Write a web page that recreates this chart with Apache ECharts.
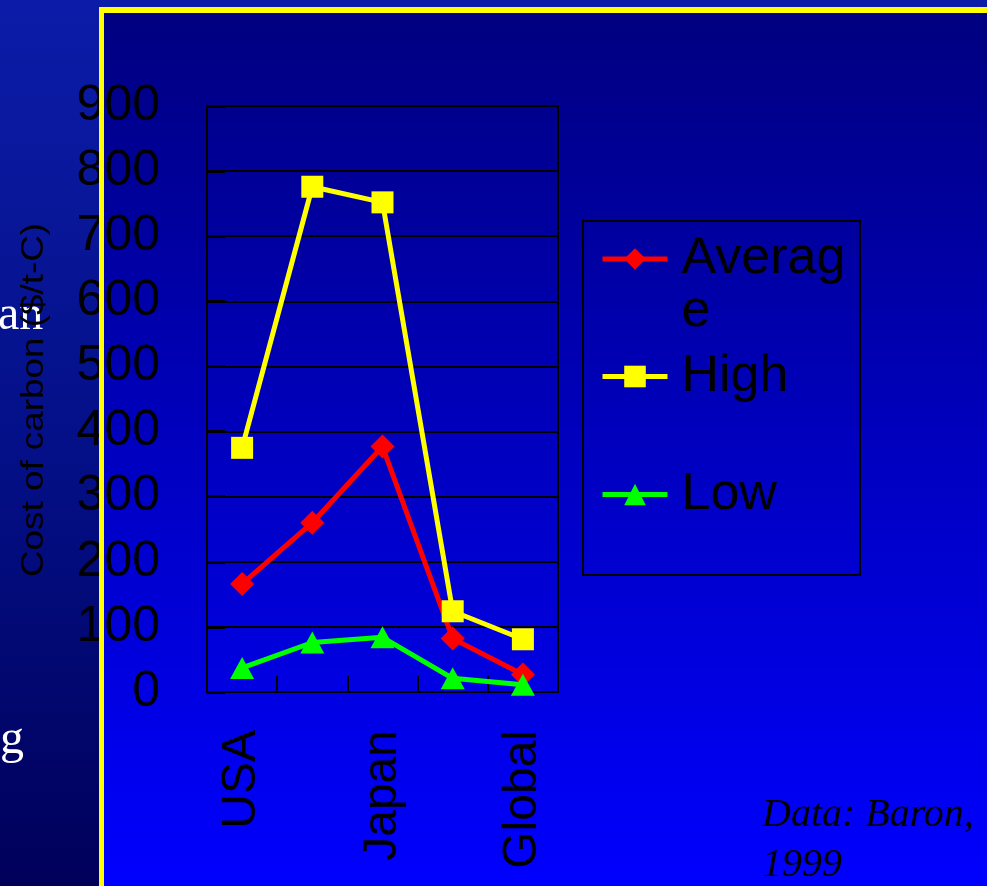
<!DOCTYPE html>
<html><head><meta charset="utf-8">
<script src="https://cdn.jsdelivr.net/npm/echarts@6/dist/echarts.min.js"></script>
<style>html,body{margin:0;padding:0;background:#000080;overflow:hidden}#c{width:987px;height:886px}</style>
</head><body><div id="c"></div>
<script>
// Data
const categories = ['USA', 'OECD Europe', 'Japan', 'CANZ', 'Global'];
const seriesNames = ['Average', 'High', 'Low'];
const averageValues = [166, 260, 377, 82, 27];
const highValues = [375, 776, 752, 124, 81];
const lowValues = [37, 76, 84, 21, 11];
const yMin = 0, yMax = 900, yStep = 100;

const SANS = 'Liberation Sans, Arial, sans-serif';
const SERIF = 'Liberation Serif, Times New Roman, serif';

const chart = echarts.init(document.getElementById('c'), null, {renderer: 'canvas'});

function legendFor(name, top, leadingBlank) {
  return {
    show: true,
    data: [name],
    orient: 'vertical',
    left: 600,
    top: top,
    padding: 0,
    itemWidth: 65,
    itemHeight: 27,
    selectedMode: false,
    formatter: leadingBlank ? function (n) { return '\n' + n; } : '{name}',
    lineStyle: { width: 5 },
    textStyle: {
      color: '#000', fontFamily: SANS, fontSize: 52, lineHeight: 53,
      width: 170, overflow: 'breakAll',
      padding: [0, 0, 0, 9]
    }
  };
}

const option = {
  animation: false,
  backgroundColor: 'transparent',
  graphic: [
    { type: 'rect', z: -100, shape: {x: 0, y: 0, width: 987, height: 886},
      style: { fill: new echarts.graphic.LinearGradient(0, 0, 0, 1, [
        {offset: 0, color: '#0c1ca8'}, {offset: 0.5, color: '#041088'}, {offset: 1, color: '#00005a'}]) } },
    { type: 'rect', z: -99, shape: {x: 102, y: 10, width: 885, height: 876},
      style: { fill: new echarts.graphic.LinearGradient(0, 0, 0, 1, [
        {offset: 0, color: '#000080'}, {offset: 1, color: '#0000ff'}]) } },
    { type: 'text', z: 1, x: -2, y: 316,
      style: { text: 'an', fill: '#fff', font: '48px ' + SERIF, verticalAlign: 'middle', align: 'left' } },
    { type: 'text', z: 1, x: 0, y: 740,
      style: { text: 'g', fill: '#fff', font: '48px ' + SERIF, verticalAlign: 'middle', align: 'left' } },
    { type: 'text', z: 2, x: 35, y: 400, rotation: Math.PI / 2, scaleX: 1.27, scaleY: 1.05,
      style: { text: 'Cost of carbon ($/t-C)', fill: '#000', font: '29px ' + SANS, align: 'center', verticalAlign: 'middle' } },
    { type: 'rect', z: 3, shape: {x: 583, y: 221, width: 277, height: 354},
      style: { fill: 'none', stroke: '#000', lineWidth: 2 } },
    { type: 'text', z: 3, x: 762, y: 815,
      style: { text: 'Data: Baron,', fill: '#000', font: 'italic 40px ' + SERIF, verticalAlign: 'middle', align: 'left' } },
    { type: 'text', z: 3, x: 762, y: 865,
      style: { text: '1999', fill: '#000', font: 'italic 40px ' + SERIF, verticalAlign: 'middle', align: 'left' } },
    { type: 'line', z: 50, shape: {x1: 101.5, y1: 7, x2: 101.5, y2: 886},
      style: { stroke: '#ffff00', lineWidth: 5 } },
    { type: 'line', z: 50, shape: {x1: 99, y1: 10, x2: 987, y2: 10},
      style: { stroke: '#ffff00', lineWidth: 6 } }
  ],
  legend: [
    legendFor('Average', 179.5, true),
    legendFor('High', 350, false),
    legendFor('Low', 468, false)
  ],
  grid: {
    left: 207, top: 106, width: 351, height: 586,
    show: true, borderColor: '#000', borderWidth: 2, backgroundColor: 'transparent',
    containLabel: false
  },
  xAxis: {
    type: 'category', data: categories, boundaryGap: true,
    axisLine: { show: true, lineStyle: { color: '#000', width: 2 } },
    axisTick: { show: true, inside: true, length: 16, interval: 0, lineStyle: { color: '#000', width: 2 } },
    axisLabel: { interval: 1, rotate: 90, margin: 38, color: '#000', fontFamily: SANS, fontSize: 48 },
    splitLine: { show: false }
  },
  yAxis: {
    type: 'value', min: yMin, max: yMax, interval: yStep,
    axisLine: { show: true, lineStyle: { color: '#000', width: 2 } },
    axisTick: { show: true, inside: true, length: 18, lineStyle: { color: '#000', width: 3 } },
    axisLabel: { margin: 47, color: '#000', fontFamily: SANS, fontSize: 50, padding: [6, 0, 0, 0] },
    splitLine: { show: true, lineStyle: { color: '#000', width: 2 } }
  },
  series: [
    { name: 'Average', type: 'line', data: averageValues, symbol: 'diamond', symbolSize: 24,
      lineStyle: { color: '#ff0000', width: 5 }, itemStyle: { color: '#ff0000' } },
    { name: 'High', type: 'line', data: highValues, symbol: 'rect', symbolSize: 22,
      lineStyle: { color: '#ffff00', width: 5 }, itemStyle: { color: '#ffff00' } },
    { name: 'Low', type: 'line', data: lowValues, symbol: 'triangle', symbolSize: [24, 22],
      lineStyle: { color: '#00ff00', width: 5 }, itemStyle: { color: '#00ff00' } }
  ]
};
chart.setOption(option);
</script>
</body></html>
